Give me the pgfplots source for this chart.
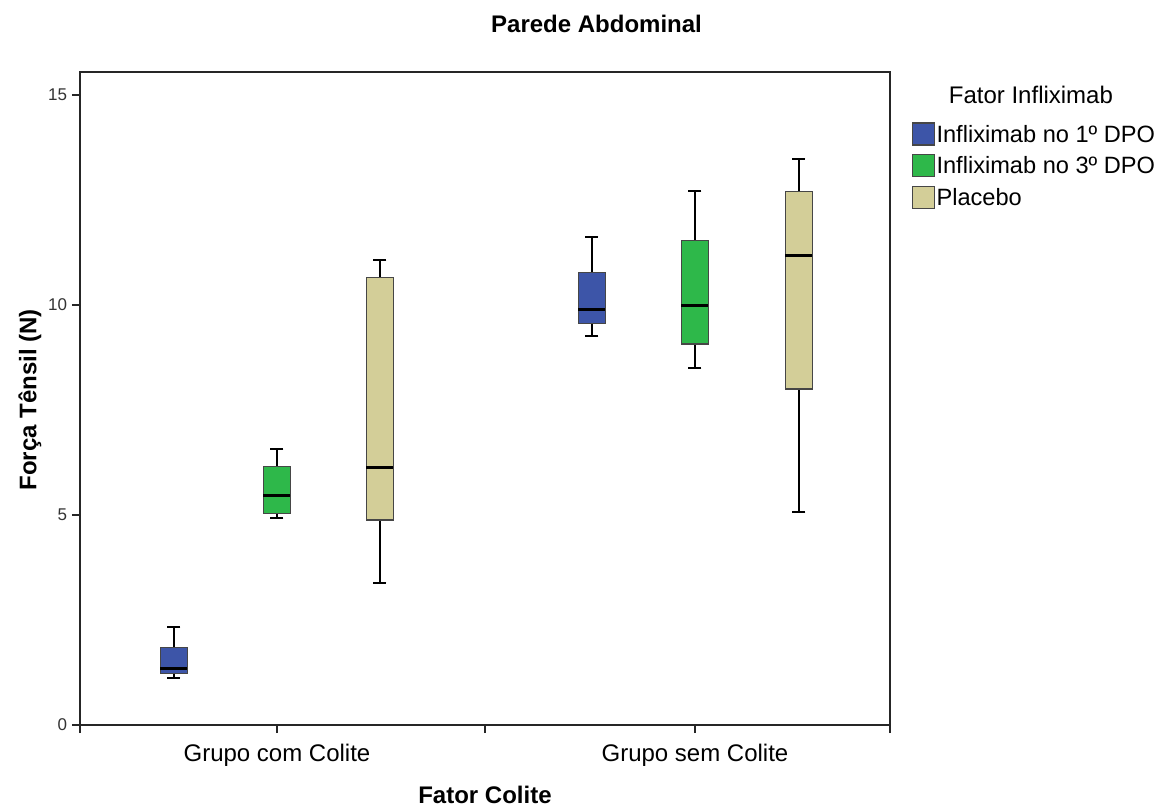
\documentclass[border=0pt]{standalone}
\usepackage{pgfplots}
\pgfplotsset{compat=1.18}
\usepgfplotslibrary{statistics}
\usepackage{fontspec}
\setmainfont{Liberation Sans}
\definecolor{cblue}{RGB}{61,85,168}
\definecolor{cgreen}{RGB}{46,184,74}
\definecolor{ctan}{RGB}{211,206,152}
\definecolor{cbox}{RGB}{70,70,70}
\begin{document}
\begin{tikzpicture}
\useasboundingbox (-40bp,-41bp) rectangle (539.5bp,362.5bp);
\begin{axis}[
  at={(0,0)}, anchor=south west, clip=false,
  scale only axis, width=405bp, height=326.5bp,
  xmin=0, xmax=810, ymin=0, ymax=15.548,
  axis line style={line width=0.75bp, black!85},
  tick align=outside, xtick pos=bottom, ytick pos=left,
  major tick length=4bp,
  tick style={line width=0.75bp, black!85},
  xtick={197,615}, xticklabels={Grupo com Colite, Grupo sem Colite},
  extra x ticks={0,405,810}, extra x tick labels={},
  ytick={0,5,10,15},
  xticklabel style={font=\fontsize{12bp}{14bp}\selectfont, yshift=-2bp},
  yticklabel style={font=\fontsize{8.5bp}{10bp}\selectfont, xshift=1bp, text=black!80},
  /pgf/number format/assume math mode=true,
  xlabel={\textbf{Fator Colite}},
  xlabel style={font=\fontsize{12bp}{14bp}\selectfont, at={(axis description cs:0.5,-0.107)}, anchor=center},
  ylabel={\textbf{Força Tênsil (N)}},
  ylabel style={font=\fontsize{12bp}{14bp}\selectfont, at={(axis description cs:-0.0617,0.498)}, anchor=center},
  boxplot/draw direction=y,
  boxplot/every median/.style={black, line width=1.5bp},
  boxplot/every whisker/.style={black, line width=1bp},
  boxplot/every box/.style={draw=cbox, line width=0.6bp},
  legend style={at={(1.019,0.9295)}, anchor=north west, draw=none, fill=none,
    font=\fontsize{11.8bp}{14bp}\selectfont, row sep=3.5bp,
    nodes={inner xsep=0.8bp, inner ysep=0bp, text height=8.5bp, text depth=2.5bp}},
  legend cell align=left,
  legend image code/.code={\draw[#1, draw=cbox, line width=0.6bp] (0bp,-4.5bp) rectangle (11bp,6.5bp);},
]
% Grupo com Colite
\addplot[fill=cblue, draw=cbox, forget plot, boxplot prepared={draw position=94, lower whisker=1.13, lower quartile=1.22, median=1.34, upper quartile=1.84, upper whisker=2.33, box extend=27, whisker extend=13}] coordinates {};
\addplot[fill=cgreen, draw=cbox, forget plot, boxplot prepared={draw position=197, lower whisker=4.92, lower quartile=5.04, median=5.46, upper quartile=6.15, upper whisker=6.56, box extend=27, whisker extend=13}] coordinates {};
\addplot[fill=ctan, draw=cbox, forget plot, boxplot prepared={draw position=300, lower whisker=3.39, lower quartile=4.88, median=6.12, upper quartile=10.65, upper whisker=11.06, box extend=27, whisker extend=13}] coordinates {};
% Grupo sem Colite
\addplot[fill=cblue, draw=cbox, forget plot, boxplot prepared={draw position=512, lower whisker=9.26, lower quartile=9.56, median=9.90, upper quartile=10.78, upper whisker=11.63, box extend=27, whisker extend=13}] coordinates {};
\addplot[fill=cgreen, draw=cbox, forget plot, boxplot prepared={draw position=615, lower whisker=8.50, lower quartile=9.07, median=9.98, upper quartile=11.53, upper whisker=12.71, box extend=27, whisker extend=13}] coordinates {};
\addplot[fill=ctan, draw=cbox, forget plot, boxplot prepared={draw position=719, lower whisker=5.06, lower quartile=8.00, median=11.19, upper quartile=12.71, upper whisker=13.48, box extend=27, whisker extend=13}] coordinates {};
\addlegendimage{fill=cblue}
\addlegendentry{Infliximab no 1º DPO}
\addlegendimage{fill=cgreen}
\addlegendentry{Infliximab no 3º DPO}
\addlegendimage{fill=ctan}
\addlegendentry{Placebo}
\node[font=\fontsize{12bp}{14bp}\selectfont\bfseries, anchor=center] at (rel axis cs:0.6377,1.0735) {Parede Abdominal};
\node[font=\fontsize{12bp}{14bp}\selectfont, anchor=center] at (rel axis cs:1.174,0.965) {Fator Infliximab};
\end{axis}
\end{tikzpicture}
\end{document}
